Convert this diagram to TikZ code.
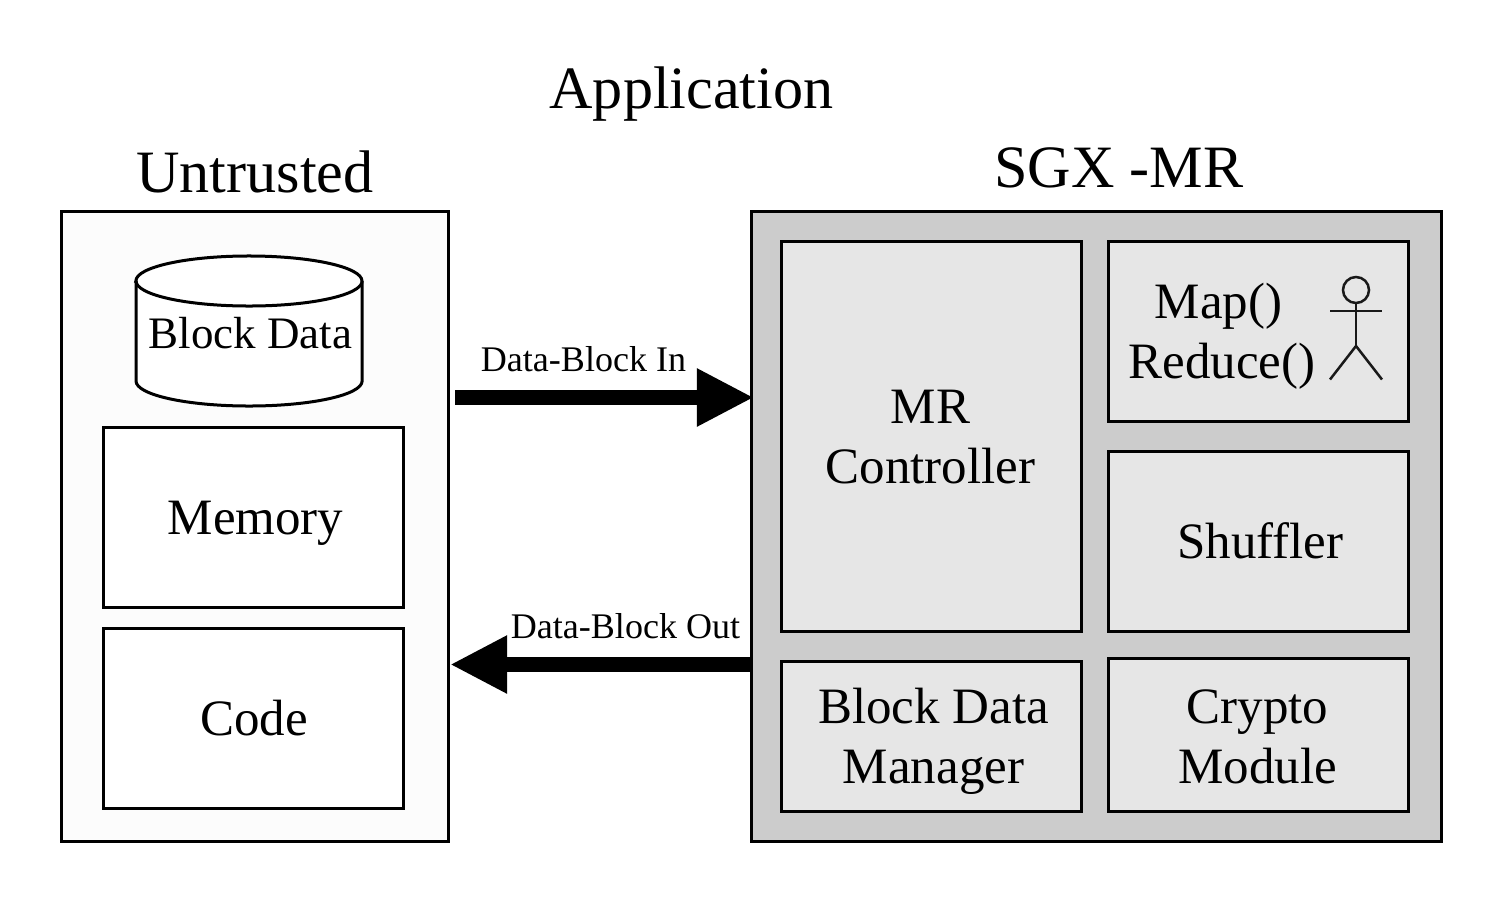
\documentclass[tikz,border=0pt]{standalone}
\usepackage{fontspec}
\setmainfont{Liberation Serif}
\usetikzlibrary{arrows.meta}

\definecolor{enclavegray}{HTML}{CCCCCC}
\definecolor{modulegray}{HTML}{E6E6E6}
\definecolor{hostgray}{HTML}{FCFCFC}

\begin{document}
\begin{tikzpicture}[x=0.01cm,y=-0.01cm,
  box/.style={draw,line width=0.03cm,rectangle,inner sep=0pt},
  boxlabel/.style={inner sep=0pt,align=center,font=\fontsize{14.5}{17}\selectfont},
  heading/.style={inner sep=0pt,font=\fontsize{17.1}{20}\selectfont},
  smalltext/.style={inner sep=0pt,font=\fontsize{10.25}{12}\selectfont},
  bigarrow/.style={line width=0.15cm,-{Triangle[length=0.57cm,width=0.54cm]}}]

\useasboundingbox (0,0) rectangle (1503,903);

% Titles
\node[heading] (application) at (691.5,94) {Application};
\node[heading] (untrustedtitle) at (255,172) {Untrusted};
\node[heading] (sgxtitle) at (1119,168) {SGX -MR};

% Untrusted side
\node[box,fill=hostgray,minimum width=3.86cm,minimum height=6.29cm] (untrusted) at (255,526.5) {};
\node[box,fill=white,minimum width=2.99cm,minimum height=1.79cm] (memory) at (253.5,517.5) {};
\node[box,fill=white,minimum width=2.99cm,minimum height=1.79cm] (code) at (253.5,718.5) {};
\node[boxlabel] (memorytext) at (255.5,523.5) {Memory};
\node[boxlabel] (codetext) at (254,718.5) {Code};

\draw[line width=0.03cm,fill=white] (136,281) -- (136,381) arc[start angle=180, end angle=360, x radius=1.13cm, y radius=0.25cm]
  -- (362,281) arc[start angle=0, end angle=180, x radius=1.13cm, y radius=0.25cm] -- cycle;
\draw[line width=0.03cm] (136,281) arc[start angle=180, end angle=360, x radius=1.13cm, y radius=0.25cm];
\node[inner sep=0pt,font=\fontsize{12.8}{15}\selectfont] (blockdata) at (250.5,333) {Block Data};

% SGX side
\node[box,fill=enclavegray,minimum width=6.89cm,minimum height=6.29cm] (sgx) at (1096.5,526.5) {};
\node[box,fill=modulegray,minimum width=2.99cm,minimum height=3.89cm] (controller) at (931.5,436.5) {};
\node[box,fill=modulegray,minimum width=2.99cm,minimum height=1.79cm] (mapreduce) at (1258.5,331.5) {};
\node[box,fill=modulegray,minimum width=2.99cm,minimum height=1.79cm] (shuffler) at (1258.5,541.5) {};
\node[box,fill=modulegray,minimum width=2.99cm,minimum height=1.49cm] (manager) at (931.5,736.5) {};
\node[box,fill=modulegray,minimum width=2.99cm,minimum height=1.52cm] (crypto) at (1258.5,735) {};
\node[boxlabel] (controllertext) at (930.5,437) {MR\\Controller};
\node[boxlabel] (mapreducetext) at (1222,336.5) {Map()\hspace*{0.07cm}\\Reduce()};
\node[boxlabel] (shufflertext) at (1260.5,540.5) {Shuffler};
\node[boxlabel] (managertext) at (933.5,741.5) {Block Data\\Manager};
\node[boxlabel] (cryptotext) at (1257.5,737) {Crypto\\Module};

% Stick figure
\draw[line width=0.025cm,draw=black!90] (1356,290) circle[radius=0.13cm];
\draw[line width=0.025cm,draw=black!90] (1356,303) -- (1356,346);
\draw[line width=0.025cm,draw=black!90] (1330,311) -- (1382,311);
\draw[line width=0.025cm,draw=black!90] (1330,379.5) -- (1356,346) -- (1382,379.5);

% Data flow
\coordinate (instart) at (455,397.5);
\coordinate (inend) at (754,397.5);
\coordinate (outstart) at (751,664.5);
\coordinate (outend) at (450,664.5);
\draw[bigarrow] (instart) -- (inend);
\draw[bigarrow] (outstart) -- (outend);
\node[smalltext] (inlabel) at (583.5,359.5) {Data-Block In};
\node[smalltext] (outlabel) at (625.5,626.5) {Data-Block Out};

\end{tikzpicture}
\end{document}
